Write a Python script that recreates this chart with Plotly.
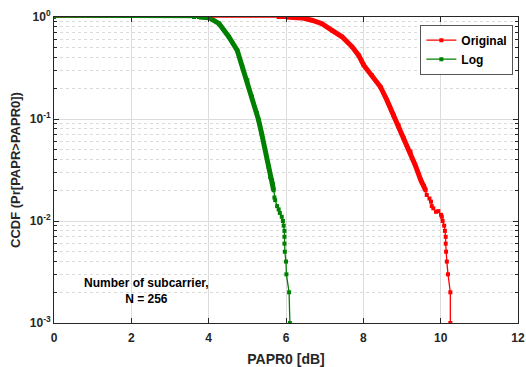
import plotly.graph_objects as go

# ---- data ----
log_x = [0.0, 3.62, 3.75, 3.88, 4.01, 4.27, 4.52, 4.74, 4.87, 5.00, 5.12, 5.25, 5.29,
         5.37, 5.46, 5.55, 5.59, 5.64, 5.66, 5.68, 5.70, 5.72, 5.77, 5.81, 5.84, 5.89,
         5.92, 5.94, 5.96, 5.96, 5.96, 5.97, 6.00, 6.01, 6.08, 6.10]
log_y = [1.0, 1.0, 0.999, 0.997, 0.985, 0.86, 0.64, 0.47, 0.324, 0.24, 0.165, 0.114, 0.098,
         0.072, 0.050, 0.034, 0.027, 0.025, 0.023, 0.020, 0.017, 0.016, 0.014, 0.013, 0.012, 0.011,
         0.010, 0.009, 0.008, 0.007, 0.006, 0.005, 0.004, 0.003, 0.002, 0.001]

orig_x = [0.0, 5.81, 5.90, 6.00, 6.15, 6.30, 6.41, 6.67, 6.93, 7.19, 7.45, 7.71, 7.88,
          8.01, 8.22, 8.44, 8.61, 8.78, 8.91, 9.04, 9.22, 9.34, 9.49, 9.57, 9.61, 9.64,
          9.71, 9.75, 9.77, 9.81, 9.88, 9.94, 10.01, 10.03, 10.05, 10.09, 10.11, 10.13,
          10.13, 10.14, 10.16, 10.19, 10.25, 10.25]
orig_y = [1.0, 1.0, 1.0, 0.999, 0.998, 0.995, 0.98, 0.93, 0.86, 0.74, 0.64, 0.51, 0.42,
          0.337, 0.269, 0.207, 0.153, 0.109, 0.087, 0.065, 0.048, 0.0355, 0.025, 0.022, 0.020, 0.018,
          0.0166, 0.0155, 0.014, 0.0133, 0.0123, 0.0125, 0.0115, 0.011, 0.010, 0.009, 0.008, 0.007,
          0.006, 0.005, 0.004, 0.003, 0.002, 0.001]

series = [("Original", orig_x, orig_y, "#ff0000"), ("Log", log_x, log_y, "#008000")]

x_ticks = [0, 2, 4, 6, 8, 10, 12]
y_ticks = [1e-3, 1e-2, 1e-1, 1]
y_tick_text = ["10<sup>-3</sup>", "10<sup>-2</sup>", "10<sup>-1</sup>", "10<sup>0</sup>"]

FONT = "Liberation Sans, Arial, sans-serif"
DARK = "#262626"

fig = go.Figure()

# thick dense band (many overlapping samples in the original)
for name, xs, ys, col in series:
    bx = [x for x, y in zip(xs, ys) if x > 0 and 0.02 <= y <= 0.999]
    by = [y for x, y in zip(xs, ys) if x > 0 and 0.02 <= y <= 0.999]
    fig.add_trace(go.Scatter(x=bx, y=by, mode="lines", showlegend=False,
                             line=dict(color=col, width=5), hoverinfo="skip"))

for name, xs, ys, col in series:
    fig.add_trace(go.Scatter(x=xs, y=ys, mode="lines+markers", name=name,
                             line=dict(color=col, width=1.3),
                             marker=dict(color=col, size=4, symbol="square")))

fig.add_annotation(x=2.4, y=-2.69, xref="x", yref="y",
                   text="Number of subcarrier,<br>N = 256", showarrow=False,
                   font=dict(family=FONT, size=12, color="black", weight="bold"),
                   align="center")

fig.update_layout(
    width=526, height=367,
    margin=dict(l=54, r=8, t=17, b=44),
    paper_bgcolor="white", plot_bgcolor="white",
    font=dict(family=FONT, size=12, color=DARK, weight="bold"),
    legend=dict(x=0.99, y=0.975, xanchor="right", yanchor="top",
                bgcolor="white", bordercolor="#555555", borderwidth=1,
                font=dict(family=FONT, size=12, color="black", weight="bold"),
                itemwidth=30, tracegroupgap=0),
)

fig.update_xaxes(
    range=[0, 12], tickvals=x_ticks, ticktext=[str(v) for v in x_ticks],
    showline=True, linecolor=DARK, linewidth=1, mirror="ticks", automargin=False,
    ticks="inside", ticklen=5, tickcolor=DARK, ticklabelstandoff=4,
    showgrid=True, gridcolor="#dcdcdc", gridwidth=1, zeroline=False,
    tickfont=dict(family=FONT, size=12, color=DARK, weight="bold"),
    title=dict(text="PAPR0 [dB]", standoff=10,
               font=dict(family=FONT, size=14, color=DARK, weight="bold")),
)
fig.update_yaxes(
    type="log", range=[-3, 0], tickvals=y_ticks, ticktext=y_tick_text,
    showline=True, linecolor=DARK, linewidth=1, mirror="ticks", automargin=False,
    ticks="inside", ticklen=5, tickcolor=DARK,
    showgrid=True, gridcolor="#dcdcdc", gridwidth=1, zeroline=False,
    minor=dict(dtick="D1", ticks="inside", ticklen=3, tickcolor=DARK,
               showgrid=True, gridcolor="#dadada", griddash="dot", gridwidth=1),
    tickfont=dict(family=FONT, size=12, color=DARK, weight="bold"),
    title=dict(text="CCDF (Pr[PAPR>PAPR0])", standoff=6,
               font=dict(family=FONT, size=13, color=DARK, weight="bold")),
)

fig.write_html("out.html")
